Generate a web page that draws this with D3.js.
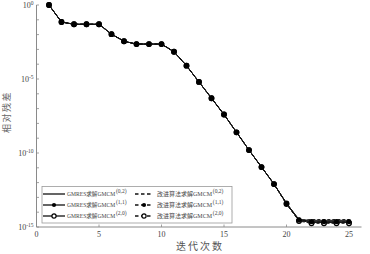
<!DOCTYPE html>
<html>
<head>
<meta charset="utf-8">
<script src="https://cdn.jsdelivr.net/npm/d3@7"></script>
<style>
  body { margin: 0; background: #fff; }
  text { font-family: "Liberation Serif", "Noto Sans CJK SC", serif; }
</style>
</head>
<body>
<svg id="chart"></svg>
<script>
// iteration number
const iters = [1,2,3,4,5,6,7,8,9,10,11,12,13,14,15,16,17,18,19,20,21,22,23,24,25]

// relative residual (log10 values)
const gmres02 = [0,-1.15,-1.3,-1.3,-1.3,-1.97,-2.45,-2.64,-2.64,-2.64,-3.16,-4.1,-5.2,-6.3,-7.4,-8.6,-9.8,-10.95,-12.1,-13.4,-14.5,-14.55,-14.55,-14.55,-14.55]
const gmres11 = [0,-1.15,-1.3,-1.3,-1.3,-1.97,-2.45,-2.64,-2.64,-2.64,-3.16,-4.1,-5.2,-6.3,-7.4,-8.6,-9.8,-10.95,-12.1,-13.4,-14.5,-14.62,-14.62,-14.62,-14.62]
const gmres20 = [0,-1.15,-1.3,-1.3,-1.3,-1.97,-2.45,-2.64,-2.64,-2.64,-3.16,-4.1,-5.2,-6.3,-7.4,-8.6,-9.8,-10.95,-12.1,-13.4,-14.55,-14.7,-14.7,-14.7,-14.7]
const impr02 = [0,-1.15,-1.3,-1.3,-1.3,-1.97,-2.45,-2.64,-2.64,-2.64,-3.16,-4.1,-5.2,-6.3,-7.4,-8.6,-9.8,-10.95,-12.1,-13.45,-14.55,-14.5,-14.5,-14.5,-14.5]
const impr11 = [0,-1.15,-1.3,-1.3,-1.3,-1.97,-2.45,-2.64,-2.64,-2.64,-3.16,-4.1,-5.2,-6.3,-7.4,-8.6,-9.8,-10.95,-12.1,-13.45,-14.55,-14.66,-14.66,-14.66,-14.66]
const impr20 = [0,-1.15,-1.3,-1.3,-1.3,-1.97,-2.45,-2.64,-2.64,-2.64,-3.16,-4.1,-5.2,-6.3,-7.4,-8.6,-9.8,-10.95,-12.1,-13.45,-14.6,-14.75,-14.75,-14.75,-14.75]

const seriesNames = ["GMRES求解GMCM", "GMRES求解GMCM", "GMRES求解GMCM", "改进算法求解GMCM", "改进算法求解GMCM", "改进算法求解GMCM"]
const seriesSup = ["(0,2)", "(1,1)", "(2,0)", "(0,2)", "(1,1)", "(2,0)"]
const seriesMarker = ["none", "dot", "circle", "none", "dot", "circle"]
const seriesDash = [false, false, false, true, true, true]
const seriesValues = [gmres02, gmres11, gmres20, impr02, impr11, impr20]

const xTicks = [0, 5, 10, 15, 20, 25]
const yMajor = [0, -5, -10, -15]

const width = 370, height = 254

const svg = d3.select("#chart")
    .attr("width", width)
    .attr("height", height)

const x = d3.scaleLinear().domain([0, 26]).range([36.5, 361.5])
const y = d3.scaleLinear().domain([0, -15]).range([5, 227])

const axisColor = "#8a8a8a"
const textColor = "#444"

// axes (left + bottom only)
svg.append("line")
    .attr("x1", x(0)).attr("x2", x(0))
    .attr("y1", y(0)).attr("y2", y(-15))
    .attr("stroke", axisColor).attr("stroke-width", 1)
svg.append("line")
    .attr("x1", x(0)).attr("x2", x(26))
    .attr("y1", y(-15)).attr("y2", y(-15))
    .attr("stroke", axisColor).attr("stroke-width", 1)

// y ticks every decade
svg.append("g").selectAll("line")
    .data(d3.range(0, -16, -1))
    .enter()
    .append("line")
    .attr("x1", x(0)).attr("x2", x(0) + 2.5)
    .attr("y1", d => y(d)).attr("y2", d => y(d))
    .attr("stroke", axisColor).attr("stroke-width", 0.8)

const yLab = svg.append("g").selectAll("text")
    .data(yMajor)
    .enter()
    .append("text")
    .attr("x", x(0) - 3)
    .attr("y", d => y(d) + 3)
    .attr("text-anchor", "end")
    .attr("font-family", "Liberation Sans, Arial, sans-serif")
    .attr("font-size", 8)
    .attr("fill", textColor)
yLab.append("tspan").text("10")
yLab.append("tspan")
    .attr("dy", -3.5)
    .attr("font-size", 5.5)
    .text(d => d === 0 ? "0" : d)

// x ticks
svg.append("g").selectAll("line")
    .data(xTicks)
    .enter()
    .append("line")
    .attr("x1", d => x(d)).attr("x2", d => x(d))
    .attr("y1", y(-15)).attr("y2", y(-15) - 2.5)
    .attr("stroke", axisColor).attr("stroke-width", 0.8)

svg.append("g").selectAll("text")
    .data(xTicks)
    .enter()
    .append("text")
    .attr("x", d => x(d))
    .attr("y", y(-15) + 10)
    .attr("text-anchor", "middle")
    .attr("font-family", "Liberation Sans, Arial, sans-serif")
    .attr("font-size", 8)
    .attr("fill", textColor)
    .text(d => d)

// axis titles
svg.append("text")
    .attr("x", 200)
    .attr("y", 250)
    .attr("text-anchor", "middle")
    .attr("font-family", "Noto Sans CJK SC")
    .attr("font-size", 10)
    .attr("letter-spacing", 2)
    .attr("fill", "#555")
    .text("迭代次数")

svg.append("text")
    .attr("transform", "translate(10,112) rotate(-90)")
    .attr("text-anchor", "middle")
    .attr("font-family", "Noto Sans CJK SC")
    .attr("font-size", 9)
    .attr("letter-spacing", 1.5)
    .attr("fill", "#666")
    .text("相对残差")

// series
const line = d3.line()
    .x((d, i) => x(iters[i]))
    .y(d => y(d))

const drawMarkers = (g, vals, type, size) => {
    if (type === "dot") {
        g.selectAll("circle")
            .data(vals)
            .enter()
            .append("circle")
            .attr("cx", (d, i) => x(iters[i]))
            .attr("cy", d => y(d))
            .attr("r", size)
            .attr("fill", "#000")
    } else if (type === "circle") {
        g.selectAll("circle")
            .data(vals)
            .enter()
            .append("circle")
            .attr("cx", (d, i) => x(iters[i]))
            .attr("cy", d => y(d))
            .attr("r", size)
            .attr("fill", "#fff")
            .attr("stroke", "#000")
            .attr("stroke-width", 1.2)
    }
}

const order = [0, 3, 2, 5, 1, 4]
order.forEach(k => {
    const g = svg.append("g")
    g.append("path")
        .datum(seriesValues[k])
        .attr("d", line)
        .attr("fill", "none")
        .attr("stroke", "#111")
        .attr("stroke-width", 1)
        .attr("stroke-dasharray", seriesDash[k] ? "3,2" : null)
    drawMarkers(g, seriesValues[k], seriesMarker[k], 2.3)
})

// legend
const legend = svg.append("g")
legend.append("rect")
    .attr("x", 42).attr("y", 186.5)
    .attr("width", 190).attr("height", 36.5)
    .attr("fill", "#fff")
    .attr("stroke", "#999")
    .attr("stroke-width", 0.8)

const colX = [43, 135]
const colLen = [22, 18]
const colText = [67, 157]
const colFont = [5.6, 6]
const rowY = [194, 205, 216]

seriesNames.forEach((name, k) => {
    const col = Math.floor(k / 3), row = k % 3
    const ly = rowY[row]
    const x1 = colX[col], x2 = colX[col] + colLen[col]
    legend.append("line")
        .attr("x1", x1).attr("x2", x2)
        .attr("y1", ly).attr("y2", ly)
        .attr("stroke", "#111")
        .attr("stroke-width", 1.3)
        .attr("stroke-dasharray", seriesDash[k] ? "3.5,2.5" : null)
    const mg = legend.append("g").attr("transform", `translate(${(x1 + x2) / 2 - x(iters[0])},${ly - y(0)})`)
    drawMarkers(mg, [0], seriesMarker[k], 2.1)
    const t = legend.append("text")
        .attr("x", colText[col])
        .attr("y", ly + 2.2)
        .attr("font-size", colFont[col])
        .attr("fill", "#444")
    t.append("tspan").text(name)
    t.append("tspan")
        .attr("dx", 0.8)
        .attr("dy", -3)
        .attr("font-size", 5.5)
        .text(seriesSup[k])
})
</script>
</body>
</html>
